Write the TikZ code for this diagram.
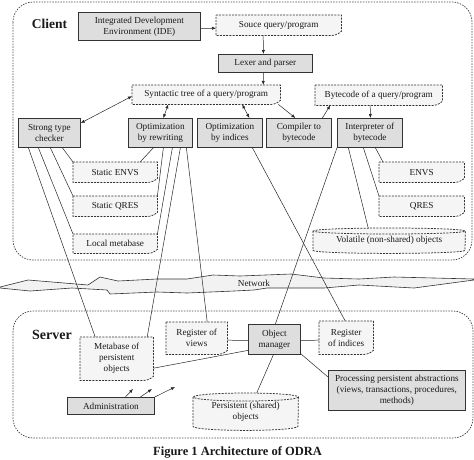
\documentclass[tikz,border=0pt]{standalone}
\usepackage{fontspec}
\setmainfont{Liberation Serif}
\usetikzlibrary{arrows.meta,backgrounds,calc}
\tikzset{
  every node/.style={font=\fontsize{9.2}{11}\selectfont, text=black!90},
  graybox/.style={draw=black!80, fill=black!13, line width=0.75pt, inner sep=0pt, align=center, anchor=north west},
  docnode/.style={inner sep=0pt, align=center, anchor=north west},
  docline/.style={draw=black!80, fill=black!4, dash pattern=on 2pt off 1.2pt, line width=0.75pt},
  region/.style={draw=black!70, dash pattern=on 1.5pt off 1.2pt, line width=0.75pt, rounded corners=20pt},
  netshape/.style={draw=black!80, fill=black!5, line width=0.6pt},
  conn/.style={draw=black!85, line width=0.5pt},
  arr/.style={conn, -{Latex[length=4pt,width=3.2pt]}},
  darr/.style={conn, {Latex[length=4pt,width=3.2pt]}-{Latex[length=4pt,width=3.2pt]}},
}
\newcommand\odradoc[1]{\path[docline] (#1.north west) -- (#1.north east) -- ([yshift=4pt]#1.south east) .. controls ([xshift=-4pt,yshift=0.5pt]#1.south east) and ([xshift=-8pt,yshift=-0.5pt]#1.south east) .. ([xshift=-13pt]#1.south east) -- (#1.south west) -- cycle;}
\newcommand\odracyl[3]{\path[docline] ([yshift=-#3]#1.north west) -- ([yshift=#3]#1.south west) arc[start angle=180,end angle=360,x radius=#2,y radius=#3] -- ([yshift=-#3]#1.north east) arc[start angle=0,end angle=180,x radius=#2,y radius=#3] arc[start angle=180,end angle=360,x radius=#2,y radius=#3];}
\begin{document}
\begin{tikzpicture}[x=1pt,y=-1pt]
\useasboundingbox (0,0) rectangle (474,459);
% regions
\begin{pgfonlayer}{background}
\draw[region] (13,2) rectangle (472,260);
\draw[region] (13,311) rectangle (473,438);
\end{pgfonlayer}
% network band
\path[netshape] (0,287) -- (28,280) -- (88,285) -- (100,277) -- (118,281) -- (157,279) -- (187,279) -- (213,275) -- (240,276) -- (291,274) -- (324,278) -- (359,279) -- (394,277) -- (474,279) -- (474,280) -- (414,288) -- (359,285) -- (324,288) -- (267,288) -- (254,290) -- (234,291) -- (187,293) -- (157,292) -- (110,294) -- (107,290) -- (72,288) -- (30,291) -- (0,288) -- cycle;
\node (netlbl) at (254,283) {Network};
% labels
\node (clientlbl) at (49.5,23.5) {\fontsize{13.5}{14}\selectfont\bfseries Client};
\node (serverlbl) at (52,335) {\fontsize{14}{15}\selectfont\bfseries Server};
\node (caption) at (237.5,452) {\fontsize{12.5}{13}\selectfont\bfseries Figure 1 Architecture of ODRA};
% client nodes
\node[graybox, minimum width=122pt, minimum height=28pt] (ide) at (78,12) {Integrated Development\\Environment (IDE)};
\node[docnode, minimum width=125pt, minimum height=20pt] (src) at (216,15) {Souce query/program};
\node[graybox, minimum width=94pt, minimum height=18pt] (lex) at (218,54) {Lexer and parser};
\node[docnode, minimum width=148pt, minimum height=19pt] (syn) at (132,85) {Syntactic tree of a query/program};
\node[docnode, minimum width=127pt, minimum height=20pt] (byt) at (315,85) {Bytecode of a query/program};
\node[graybox, minimum width=62pt, minimum height=29pt] (stc) at (18,118) {Strong type\\checker};
\node[graybox, minimum width=64pt, minimum height=29pt] (opr) at (128,118) {Optimization\\by rewriting};
\node[graybox, minimum width=65pt, minimum height=29pt] (opi) at (197,118) {Optimization\\by indices};
\node[graybox, minimum width=65pt, minimum height=29pt] (cmp) at (266,118) {Compiler to\\bytecode};
\node[graybox, minimum width=65pt, minimum height=29pt] (int) at (337,118) {Interpreter of\\bytecode};
\node[docnode, minimum width=84pt, minimum height=20pt] (senv) at (73,162) {Static ENVS};
\node[docnode, minimum width=84pt, minimum height=20pt] (sqres) at (73,196) {Static QRES};
\node[docnode, minimum width=84pt, minimum height=19pt] (lmeta) at (73,234) {Local metabase};
\node[docnode, minimum width=85pt, minimum height=20pt] (envs) at (379,162) {ENVS};
\node[docnode, minimum width=85pt, minimum height=20pt] (qres) at (379,196) {QRES};
\node[docnode, minimum width=152pt, minimum height=25pt] (vol) at (313,228) {Volatile (non-shared) objects};
% server nodes
\node[docnode, minimum width=73pt, minimum height=43pt] (meta) at (80,337) {Metabase of\\persistent\\objects};
\node[docnode, minimum width=61pt, minimum height=32pt] (rviews) at (166,322) {Register of\\views};
\node[graybox, minimum width=52pt, minimum height=30pt] (om) at (248,324) {Object\\manager};
\node[docnode, minimum width=54pt, minimum height=33pt] (rind) at (319,321) {Register\\of indices};
\node[graybox, minimum width=137pt, minimum height=40pt] (proc) at (328,370) {Processing persistent abstractions\\(views, transactions, procedures,\\methods)};
\node[docnode, minimum width=105pt, minimum height=37pt] (pers) at (193,393) {Persistent (shared)\\objects};
\node[graybox, minimum width=87pt, minimum height=17pt] (adm) at (67,397) {Administration};
% doc outlines
\begin{pgfonlayer}{background}
\odradoc{src}\odradoc{syn}\odradoc{byt}
\odradoc{senv}\odradoc{sqres}\odradoc{lmeta}
\odradoc{envs}\odradoc{qres}
\odradoc{meta}\odradoc{rviews}\odradoc{rind}
\odracyl{vol}{76pt}{3pt}
\odracyl{pers}{52.5pt}{4pt}
\end{pgfonlayer}
% client arrows
\draw[arr] ([yshift=-2pt]ide.east) -- ([yshift=-3pt]src.west);
\draw[arr] ([xshift=-15.5pt]src.south) -- ([xshift=-2pt]lex.north);
\draw[arr] ([xshift=-2pt]lex.south) -- ([xshift=57pt]syn.north);
\draw[darr] ([yshift=-5pt]stc.north east) -- ([yshift=-1.5pt]syn.west);
\draw[darr] ([xshift=3pt]opr.north) -- ([xshift=-38pt]syn.south);
\draw[darr] ([xshift=36pt]syn.south) -- ([xshift=19.5pt]opi.north);
\draw[arr] ([xshift=-2pt]syn.south east) -- ([xshift=-3.5pt]cmp.north);
\draw[arr] ([xshift=23.5pt]cmp.north) -- ([xshift=-48.5pt]byt.south);
\draw[arr] ([xshift=-8.5pt]byt.south) -- ([xshift=0.5pt]int.north);
% client lines
\draw[conn] ([xshift=13pt]stc.south) -- (senv.north west);
\draw[conn] ([xshift=1pt]stc.south) -- (sqres.north west);
\draw[conn] ([xshift=-11pt]stc.south) -- (lmeta.north west);
\draw[conn] ([xshift=-21pt]stc.south) -- ([xshift=-21.5pt]meta.north);
\draw[conn] ([xshift=-7pt]opr.south) -- ([xshift=25pt]senv.north);
\draw[conn] ([xshift=3pt]opr.south) -- (sqres.north east);
\draw[conn] ([xshift=12pt]opr.south) -- (lmeta.north east);
\draw[conn] ([xshift=20pt]opr.south) -- ([xshift=30.5pt]meta.north);
\draw[conn] ([xshift=26pt]opr.south) -- ([xshift=10.5pt]rviews.north);
\draw[conn] ([xshift=22.5pt]opi.south) -- ([xshift=-1pt]rind.north);
\draw[conn] (int.south west) -- ([xshift=1pt]om.north);
\draw[conn] ([xshift=-21.5pt]int.south) -- ([xshift=-21pt]vol.north);
\draw[conn] ([xshift=-6.5pt]int.south) -- (qres.north west);
\draw[conn] ([xshift=5.5pt]int.south) -- ([xshift=4pt]envs.north west);
% server lines
\draw[conn] ([yshift=-2pt]rviews.east) -- ([yshift=-1pt]om.west);
\draw[conn] ([yshift=-9.5pt]meta.east) -- ([yshift=-11pt]om.west);
\draw[conn] ([yshift=-1pt]om.east) -- ([yshift=-2.5pt]rind.west);
\draw[conn] ([yshift=1pt]om.south east) -- ([yshift=-7pt]proc.north west);
\draw[conn] ([xshift=-1pt]om.south) -- ([xshift=11pt]pers.north);
% administration arrows
\coordinate (ad1) at (133,389);
\coordinate (ad2) at (152,389);
\coordinate (ad3) at (175,387);
\draw[arr] ([xshift=14.5pt]adm.north) -- (ad1);
\draw[arr] ([xshift=29.5pt]adm.north) -- (ad2);
\draw[arr] (adm.north east) -- (ad3);
\end{tikzpicture}
\end{document}
